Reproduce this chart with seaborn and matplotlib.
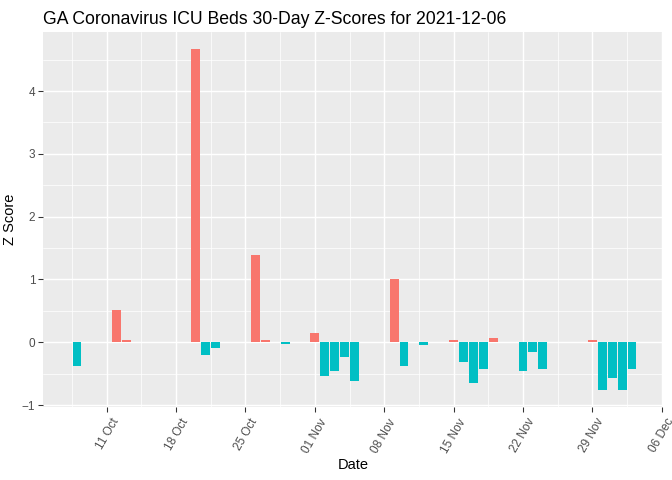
import matplotlib
matplotlib.use("Agg")
import matplotlib.pyplot as plt
import matplotlib.dates as mdates
from matplotlib.ticker import MultipleLocator, FixedLocator
import matplotlib.transforms as mtransforms
import seaborn as sns
import pandas as pd
import numpy as np

dates = ["2021-10-08", "2021-10-12", "2021-10-13", "2021-10-20", "2021-10-21",
         "2021-10-22", "2021-10-26", "2021-10-27", "2021-10-29", "2021-11-01",
         "2021-11-02", "2021-11-03", "2021-11-04", "2021-11-05", "2021-11-09",
         "2021-11-10", "2021-11-12", "2021-11-15", "2021-11-16", "2021-11-17",
         "2021-11-18", "2021-11-19", "2021-11-22", "2021-11-23", "2021-11-24",
         "2021-11-29", "2021-11-30", "2021-12-01", "2021-12-02", "2021-12-03"]
zscores = [-0.38, 0.51, 0.04, 4.67, -0.20,
           -0.09, 1.39, 0.03, -0.02, 0.15,
           -0.54, -0.46, -0.23, -0.61, 1.01,
           -0.38, -0.05, 0.04, -0.31, -0.65,
           -0.43, 0.07, -0.46, -0.15, -0.43,
           0.04, -0.76, -0.57, -0.76, -0.43]
week_ticks = ["2021-10-11", "2021-10-18", "2021-10-25", "2021-11-01",
              "2021-11-08", "2021-11-15", "2021-11-22", "2021-11-29", "2021-12-06"]
title = "GA Coronavirus ICU Beds 30-Day Z-Scores for 2021-12-06"

df = pd.DataFrame({"date": pd.to_datetime(dates), "z": zscores})
df["num"] = mdates.date2num(df["date"])
df["sign"] = np.where(df["z"] >= 0, "pos", "neg")

sns.set_theme(style="darkgrid")
plt.rcParams["font.family"] = ["Liberation Sans", "DejaVu Sans"]

fig = plt.figure(figsize=(7, 5), dpi=96)
ax = fig.add_axes([43/672, 1-407/480, (663-43)/672, (407-32)/480])
ax.set_facecolor("#EBEBEB")

sns.barplot(data=df, x="num", y="z", hue="sign",
            palette={"pos": "#F8766D", "neg": "#00BFC4"},
            hue_order=["pos", "neg"], saturation=1,
            native_scale=True, dodge=False, width=0.9, legend=False,
            linewidth=0, ax=ax, zorder=3)

x0 = mdates.date2num(pd.Timestamp("2021-10-04")) + 0.57
x1 = mdates.date2num(pd.Timestamp("2021-12-06")) + 0.13
ax.set_xlim(x0, x1)
ax.set_ylim(-1.03, 4.94)

major = mdates.date2num(pd.to_datetime(week_ticks))
minor = np.concatenate([[major[0] - 3.5], major + 3.5])
ax.xaxis.set_major_locator(FixedLocator(major))
ax.xaxis.set_minor_locator(FixedLocator(minor))
ax.xaxis.set_major_formatter(mdates.DateFormatter("%d %b"))
ax.yaxis.set_major_locator(MultipleLocator(1))
ax.yaxis.set_minor_locator(MultipleLocator(0.5))

ax.grid(which="major", color="white", linewidth=1.1, zorder=0)
ax.grid(which="minor", color="white", linewidth=0.55, zorder=0)
ax.set_axisbelow(True)
for s in ax.spines.values():
    s.set_visible(False)

ax.tick_params(axis="both", which="major", length=3.7, width=0.8, color="#333333",
               labelcolor="#4D4D4D", labelsize=8.8, pad=2, bottom=True, left=True)
ax.tick_params(axis="both", which="minor", length=0)
offset = mtransforms.ScaledTranslation(4/96, -2/96, fig.dpi_scale_trans)
for lab in ax.get_xticklabels():
    lab.set_rotation(60)
    lab.set_ha("right")
    lab.set_va("top")
    lab.set_rotation_mode("anchor")
    lab.set_transform(lab.get_transform() + offset)

ax.set_xlabel("Date", fontsize=11, color="black", labelpad=2)
ax.set_ylabel("Z Score", fontsize=11, color="black", labelpad=4)
fig.text(43/672, 1-24/480, title, fontsize=13.2, color="black", ha="left", va="baseline")

fig.savefig("out.png", dpi=96)
